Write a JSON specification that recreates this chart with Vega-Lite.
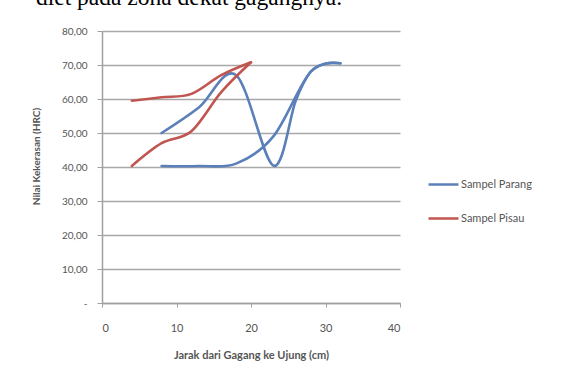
{
  "$schema": "https://vega.github.io/schema/vega-lite/v6.json",
  "width": 298,
  "height": 272,
  "autosize": {"type": "none"},
  "padding": {"left": 102, "top": 31, "right": 162, "bottom": 81},
  "background": "white",
  "title": {
    "text": "diet pada zona dekat gagangnya.",
    "anchor": "start",
    "frame": "group",
    "orient": "top",
    "offset": 0,
    "dx": -66,
    "dy": 2,
    "baseline": "alphabetic",
    "font": "Liberation Serif",
    "fontSize": 23.5,
    "fontWeight": "normal",
    "color": "#000000"
  },
  "data": {
    "values": [
      {"series": "Sampel Parang", "line": "P1", "x": 8, "y": 50.0},
      {"series": "Sampel Parang", "line": "P1", "x": 13, "y": 57.5},
      {"series": "Sampel Parang", "line": "P1", "x": 18, "y": 67.0},
      {"series": "Sampel Parang", "line": "P1", "x": 23, "y": 40.4},
      {"series": "Sampel Parang", "line": "P1", "x": 26, "y": 59.5},
      {"series": "Sampel Parang", "line": "P1", "x": 28, "y": 68.0},
      {"series": "Sampel Parang", "line": "P1", "x": 30, "y": 70.4},
      {"series": "Sampel Parang", "line": "P1", "x": 32, "y": 70.5},
      {"series": "Sampel Parang", "line": "P2", "x": 8, "y": 40.3},
      {"series": "Sampel Parang", "line": "P2", "x": 13, "y": 40.3},
      {"series": "Sampel Parang", "line": "P2", "x": 18, "y": 41.0},
      {"series": "Sampel Parang", "line": "P2", "x": 23, "y": 49.0},
      {"series": "Sampel Parang", "line": "P2", "x": 28, "y": 68.0},
      {"series": "Sampel Parang", "line": "P2", "x": 32, "y": 70.5},
      {"series": "Sampel Pisau", "line": "K1", "x": 4, "y": 59.5},
      {"series": "Sampel Pisau", "line": "K1", "x": 8, "y": 60.5},
      {"series": "Sampel Pisau", "line": "K1", "x": 12, "y": 61.5},
      {"series": "Sampel Pisau", "line": "K1", "x": 16, "y": 67.0},
      {"series": "Sampel Pisau", "line": "K1", "x": 20, "y": 70.8},
      {"series": "Sampel Pisau", "line": "K2", "x": 4, "y": 40.3},
      {"series": "Sampel Pisau", "line": "K2", "x": 8, "y": 47.0},
      {"series": "Sampel Pisau", "line": "K2", "x": 12, "y": 50.5},
      {"series": "Sampel Pisau", "line": "K2", "x": 16, "y": 62.0},
      {"series": "Sampel Pisau", "line": "K2", "x": 20, "y": 70.8}
    ]
  },
  "mark": {"type": "line", "interpolate": "cardinal", "strokeWidth": 2.6, "strokeCap": "round"},
  "encoding": {
    "x": {
      "field": "x",
      "type": "quantitative",
      "scale": {"domain": [0, 40], "nice": false},
      "axis": {
        "values": [0, 10, 20, 30, 40],
        "title": "Jarak dari Gagang ke Ujung (cm)",
        "grid": false,
        "domainColor": "#a0a0a0",
        "domainWidth": 1.5,
        "tickColor": "#a0a0a0",
        "tickSize": 4,
        "labelPadding": 15,
        "labelFont": "Lato",
        "labelFontSize": 11,
        "labelColor": "#555555",
        "titleFont": "Lato",
        "titleFontSize": 11,
        "titleFontWeight": "bold",
        "titleColor": "#555555",
        "titlePadding": 16
      }
    },
    "y": {
      "field": "y",
      "type": "quantitative",
      "scale": {"domain": [0, 80], "nice": false},
      "axis": {
        "values": [0, 10, 20, 30, 40, 50, 60, 70, 80],
        "labelExpr": "datum.value == 0 ? '-' : replace(format(datum.value, '.2f'), '.', ',')",
        "title": "Nilai Kekerasan (HRC)",
        "grid": true,
        "gridColor": "#a8a8a8",
        "gridWidth": 1.3,
        "domainColor": "#a0a0a0",
        "domainWidth": 1.5,
        "tickColor": "#a0a0a0",
        "tickSize": 5,
        "labelPadding": 10,
        "labelFont": "Lato",
        "labelFontSize": 10,
        "labelColor": "#555555",
        "titleFont": "Lato",
        "titleFontSize": 10,
        "titleFontWeight": "bold",
        "titleColor": "#555555",
        "titleX": -66,
        "titleY": 125,
        "titleAlign": "center",
        "titleBaseline": "middle"
      }
    },
    "color": {
      "field": "series",
      "type": "nominal",
      "scale": {"domain": ["Sampel Parang", "Sampel Pisau"], "range": ["#5b7fb8", "#c0564f"]},
      "legend": {
        "title": null,
        "orient": "none",
        "legendX": 325,
        "legendY": 137,
        "symbolType": "stroke",
        "symbolSize": 900,
        "symbolStrokeWidth": 2.5,
        "rowPadding": 12,
        "labelOffset": 1,
        "labelFont": "Lato",
        "labelFontSize": 11,
        "labelColor": "#555555"
      }
    },
    "detail": {"field": "line"}
  },
  "config": {"view": {"stroke": null}}
}
